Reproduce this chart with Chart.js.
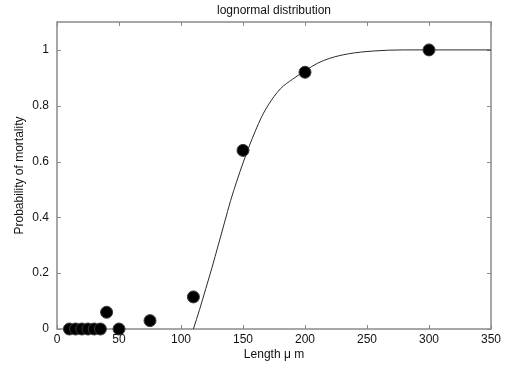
<!DOCTYPE html>
<html>
<head>
<meta charset="utf-8">
<script src="https://cdn.jsdelivr.net/npm/chart.js@4.4.0/dist/chart.umd.min.js"></script>
<style>
    html, body { margin: 0; padding: 0; background: #fff; }
</style>
</head>
<body>
<canvas id="lognormal-chart" width="509" height="367"></canvas>
<script>(function() { "use strict";

    // measured mortality per length class
    var sample_lengths   = [10, 15, 20, 25, 30, 35, 40, 50, 75, 110, 150, 200, 300];
    var sample_mortality = [0, 0, 0, 0, 0, 0, 0.06, 0, 0.03, 0.115, 0.64, 0.92, 1.0];

    // fitted lognormal curve
    var fit_lengths   = [110, 115, 120, 125, 130, 135, 140, 145, 150, 155, 160, 165, 170, 180, 190, 200, 210, 220, 235, 255, 280, 350];
    var fit_mortality = [0, 0.07, 0.145, 0.22, 0.30, 0.38, 0.46, 0.53, 0.595, 0.655, 0.71, 0.76, 0.80, 0.86, 0.895, 0.925, 0.952, 0.97, 0.986, 0.996, 1.0, 1.0];

    var x_ticks = [0, 50, 100, 150, 200, 250, 300, 350];
    var y_ticks = [0, 0.2, 0.4, 0.6, 0.8, 1];

    var font_family = '"Liberation Sans", Arial, sans-serif';
    var axis_color = '#8a8a8a';

    function toPoints(xs, ys) {
        return xs.map(function(x, i) { return { x: x, y: ys[i] }; });
    }

    // matlab-like box with inward ticks
    var axisFrame = {
        id: 'axisFrame',
        beforeDatasetsDraw: function(chart) {
            var ctx = chart.ctx,
                area = chart.chartArea,
                xs = chart.scales.x,
                ys = chart.scales.y,
                len = 4;
            ctx.save();
            ctx.strokeStyle = axis_color;
            ctx.lineWidth = 1.5;
            ctx.strokeRect(area.left, area.top, area.right - area.left, area.bottom - area.top);
            ctx.lineWidth = 1;
            ctx.beginPath();
            x_ticks.forEach(function(v) {
                var px = Math.round(xs.getPixelForValue(v)) + 0.5;
                ctx.moveTo(px, area.bottom); ctx.lineTo(px, area.bottom - len);
                ctx.moveTo(px, area.top); ctx.lineTo(px, area.top + len);
            });
            y_ticks.forEach(function(v) {
                var py = Math.round(ys.getPixelForValue(v)) + 0.5;
                ctx.moveTo(area.left, py); ctx.lineTo(area.left + len, py);
                ctx.moveTo(area.right, py); ctx.lineTo(area.right - len, py);
            });
            ctx.stroke();
            ctx.restore();
        }
    };

    var lognormal_chart = new Chart(document.getElementById('lognormal-chart').getContext('2d'), {
        type: 'scatter',
        data: {
            datasets: [{
                label: 'observed',
                data: toPoints(sample_lengths, sample_mortality),
                backgroundColor: '#000',
                borderColor: '#3a3a3a',
                borderWidth: 1,
                pointRadius: 6,
                clip: false,
                order: 0
            }, {
                label: 'lognormal fit',
                data: toPoints(fit_lengths, fit_mortality),
                showLine: true,
                borderColor: '#2a2a2a',
                borderWidth: 1,
                pointRadius: 0,
                cubicInterpolationMode: 'monotone',
                order: 1
            }]
        },
        plugins: [axisFrame],
        options: {
            responsive: false,
            animation: false,
            devicePixelRatio: 1,
            layout: {
                padding: { top: 0, right: 18, bottom: 0, left: 0 }
            },
            plugins: {
                legend: { display: false },
                tooltip: { enabled: false },
                title: {
                    display: true,
                    fullSize: false,
                    text: 'lognormal distribution',
                    color: '#111',
                    font: { family: font_family, size: 12, weight: 'normal' },
                    padding: { top: 3, bottom: 4.6 }
                }
            },
            scales: {
                x: {
                    type: 'linear',
                    min: 0,
                    max: 350,
                    afterBuildTicks: function(scale) {
                        scale.ticks = x_ticks.map(function(v) { return { value: v }; });
                    },
                    afterFit: function(scale) {
                        scale.height = 38;
                        scale.paddingLeft = 0;
                        scale.paddingRight = 0;
                    },
                    grid: { display: false, drawTicks: false },
                    border: { display: false },
                    ticks: {
                        color: '#111',
                        padding: 3,
                        maxRotation: 0,
                        autoSkip: false,
                        font: { family: font_family, size: 12 }
                    },
                    title: {
                        display: true,
                        text: 'Length \u03bc m',
                        color: '#111',
                        font: { family: font_family, size: 12 },
                        padding: { top: 0, bottom: 5.4 }
                    }
                },
                y: {
                    type: 'linear',
                    min: 0,
                    max: 1.1,
                    afterBuildTicks: function(scale) {
                        scale.ticks = y_ticks.map(function(v) { return { value: v }; });
                    },
                    afterFit: function(scale) {
                        scale.width = 57;
                        scale.paddingTop = 0;
                        scale.paddingBottom = 0;
                    },
                    grid: { display: false, drawTicks: false },
                    border: { display: false },
                    ticks: {
                        color: '#111',
                        padding: 8,
                        autoSkip: false,
                        font: { family: font_family, size: 12 },
                        callback: function(v) { return String(Math.round(v * 10) / 10); }
                    },
                    title: {
                        display: true,
                        text: 'Probability of mortality',
                        color: '#111',
                        font: { family: font_family, size: 12 },
                        padding: { top: 12.8, bottom: 0 }
                    }
                }
            }
        }
    });

})();</script>
</body>
</html>
